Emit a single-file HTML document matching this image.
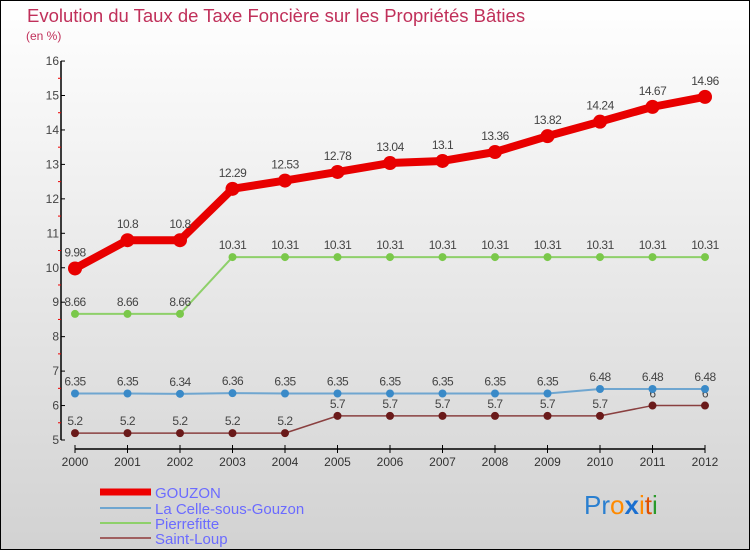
<!DOCTYPE html>
<html><head><meta charset="utf-8"><style>
body{margin:0}
#c{width:750px;height:550px;position:relative;overflow:hidden}
text{font-family:"Liberation Sans",sans-serif}
</style></head><body>
<div id="c">
<svg id="s" width="750" height="550" xmlns="http://www.w3.org/2000/svg">
<defs><linearGradient id="bg" x1="0" y1="0" x2="0" y2="1"><stop offset="0" stop-color="#ffffff"/><stop offset="1" stop-color="#d2d2d2"/></linearGradient></defs>
<rect x="0.5" y="0.5" width="749" height="549" fill="url(#bg)" stroke="#000"/>
<text x="27" y="22" font-size="18.5" fill="#c0305a">Evolution du Taux de Taxe Foncière sur les Propriétés Bâties</text>
<text x="26" y="40" font-size="12" fill="#c0305a">(en %)</text>
<g id="axes"></g><g id="series"></g>
<g>
<line x1="100" y1="492" x2="151" y2="492" stroke="#e00" stroke-width="7"/>
<text x="155" y="498" font-size="15" fill="#6b6bff">GOUZON</text>
<line x1="100" y1="508" x2="151" y2="508" stroke="#6fa6d0" stroke-width="2"/>
<text x="155" y="514" font-size="15" fill="#6b6bff">La Celle-sous-Gouzon</text>
<line x1="100" y1="523" x2="151" y2="523" stroke="#8ed06a" stroke-width="2"/>
<text x="155" y="529" font-size="15" fill="#6b6bff">Pierrefitte</text>
<line x1="100" y1="538" x2="151" y2="538" stroke="#a06060" stroke-width="2"/>
<text x="155" y="544" font-size="15" fill="#6b6bff">Saint-Loup</text>
</g>
<g font-size="26">
<text x="584" y="514"><tspan fill="#2a7fd0">Pr</tspan><tspan fill="#ff8a00">o</tspan><tspan fill="#1a6fd0" font-weight="bold">x</tspan><tspan fill="#ff8a00">i</tspan><tspan fill="#e05000">t</tspan><tspan fill="#2a9a2a">i</tspan></text>
</g>
</svg></div>
<script>
const years=[2000,2001,2002,2003,2004,2005,2006,2007,2008,2009,2010,2011,2012];
const gouzon=[9.98,10.8,10.8,12.29,12.53,12.78,13.04,13.1,13.36,13.82,14.24,14.67,14.96];
const laCelle=[6.35,6.35,6.34,6.36,6.35,6.35,6.35,6.35,6.35,6.35,6.48,6.48,6.48];
const pierrefitte=[8.66,8.66,8.66,10.31,10.31,10.31,10.31,10.31,10.31,10.31,10.31,10.31,10.31];
const saintLoup=[5.2,5.2,5.2,5.2,5.2,5.7,5.7,5.7,5.7,5.7,5.7,6,6];
const yTicks=[5,6,7,8,9,10,11,12,13,14,15,16];
const NS="http://www.w3.org/2000/svg";
const X=i=>75+i*52.5, Y=v=>440-(v-5)*34.45;
function mk(p,t,a){const e=document.createElementNS(NS,t);for(const k in a)e.setAttribute(k,a[k]);p.appendChild(e);return e;}
const ax=document.getElementById('axes');
let e=mk(ax,'line',{x1:61,y1:Y(16),x2:61,y2:Y(5),stroke:'#000','stroke-width':1.5});

e=mk(ax,'line',{x1:X(0),y1:449,x2:X(12),y2:449,stroke:'#000','stroke-width':1.5});

yTicks.forEach(v=>{
 mk(ax,'line',{x1:61,y1:Y(v),x2:65,y2:Y(v),stroke:'#000'});
 if(v<16)mk(ax,'line',{x1:58,y1:Y(v+0.5),x2:61,y2:Y(v+0.5),stroke:'#e00'});
 const t=mk(ax,'text',{x:59,y:Y(v)+4,'text-anchor':'end','font-size':12,fill:'#444'});t.textContent=v;
 
});
years.forEach((y,i)=>{
 mk(ax,'line',{x1:X(i),y1:445,x2:X(i),y2:453,stroke:'#000'});
 const t=mk(ax,'text',{x:X(i),y:466,'text-anchor':'middle','font-size':12,fill:'#333'});t.textContent=y;
 
});
const sg=document.getElementById('series');
function draw(data,name,color,w,r,dot,dy){
 const g=mk(sg,'g',{});
 
 mk(g,'polyline',{points:data.map((v,i)=>X(i)+','+Y(v)).join(' '),fill:'none',stroke:color,'stroke-width':w,'stroke-linejoin':'round'});
 data.forEach((v,i)=>{
  const c=mk(g,'circle',{cx:X(i),cy:Y(v),r:r,fill:dot});
  
  const t=mk(g,'text',{x:X(i),y:Y(v)-dy,'text-anchor':'middle','font-size':12,fill:'#444','letter-spacing':'-0.5'});t.textContent=v;
  
 });
}
draw(saintLoup,'saint-loup-series','#8a4040',1.5,4,'#6a1a1a',8);
draw(laCelle,'la-celle-series','#6fa6d0',2,4,'#3a8ac8',8);
draw(pierrefitte,'pierrefitte-series','#8ed06a',2,4,'#7ac84a',8);
draw(gouzon,'gouzon-series','#e80000',8,7,'#e80000',12);
</script>
</body></html>
